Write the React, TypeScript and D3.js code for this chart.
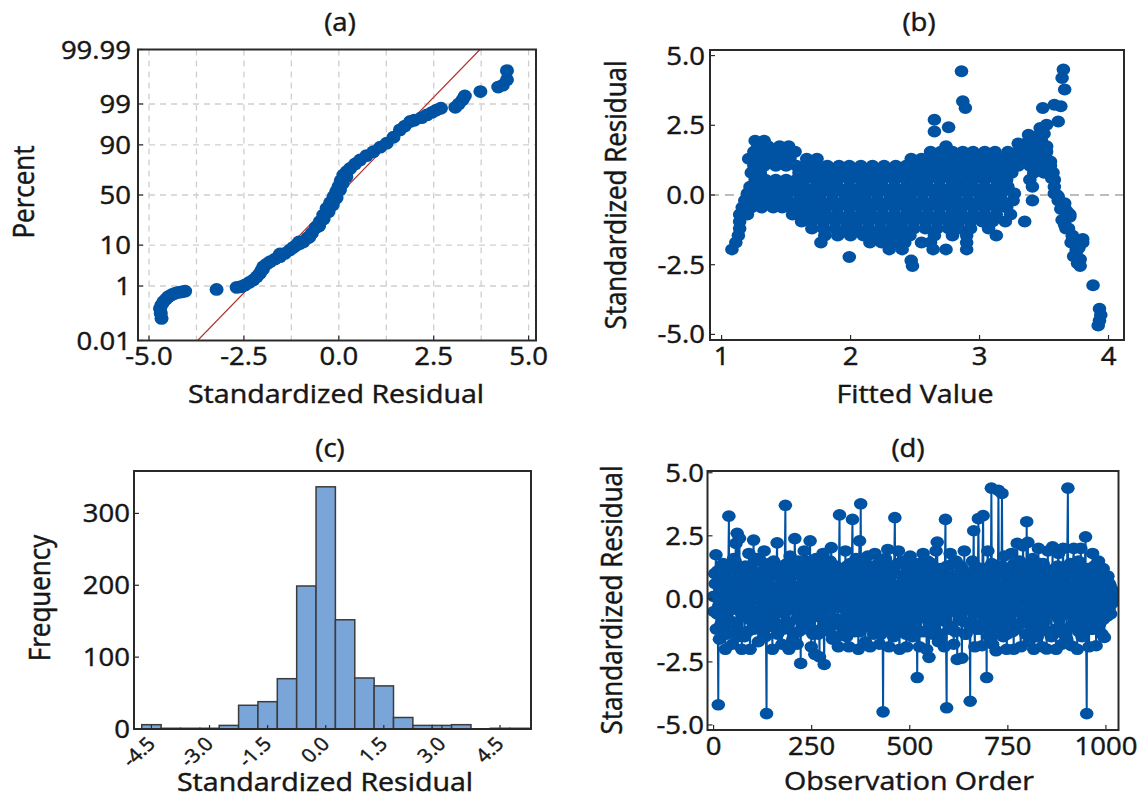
import React from 'react';
import * as d3 from 'd3';

const SX = 1.1;
const FONT = "'Open Sans', 'Noto Sans', sans-serif";
const BLUE = '#0052A3';
const TXT = '#161616';

// ---------- (a) normal probability plot ----------
const probTickPercents = [0.01, 1, 10, 50, 90, 99, 99.99];
const probTickLabels = ['0.01', '1', '10', '50', '90', '99', '99.99'];
const probGridPercents = [1, 10, 50, 90, 99];
const probXTicks = [-5, -2.5, 0, 2.5, 5];
const probXTickLabels = ['-5.0', '-2.5', '0.0', '2.5', '5.0'];
const probXGrid = [-5, -3.75, -2.5, -1.25, 0, 1.25, 2.5, 3.75, 5];
const fitMean = 0;
const fitSd = 1.0;
// [standardized residual, percent]
const probPoints: [number, number][] = [
  [-4.67, 0.08], [-4.69, 0.124], [-4.71, 0.187], [-4.67, 0.245], [-4.62, 0.32], [-4.55, 0.39],
  [-4.49, 0.47], [-4.4, 0.54], [-4.32, 0.6], [-4.23, 0.64], [-4.14, 0.66], [-4.05, 0.7],
  [-3.22, 0.79],
  [-2.69, 0.91], [-2.58, 0.95], [-2.47, 1.07], [-2.36, 1.27], [-2.25, 1.49], [-2.16, 1.84],
  [-2.08, 2.26], [-2.03, 2.75], [-1.99, 3.34], [-1.9, 3.88], [-1.81, 4.41], [-1.68, 5.08],
  [-1.55, 5.74], [-1.42, 6.79], [-1.29, 7.97], [-1.2, 9.04], [-1.11, 10.05], [-1.02, 10.8],
  [-0.93, 11.6], [-0.83, 13.6], [-0.71, 16.4], [-0.61, 20.2], [-0.5, 24.8], [-0.41, 30.4],
  [-0.32, 36.7], [-0.23, 42.2], [-0.14, 48.3], [-0.07, 53.4], [-0.01, 58.4], [0.05, 64.3],
  [0.12, 69.6], [0.21, 72.5], [0.3, 75.2], [0.43, 78.6], [0.56, 81.5], [0.73, 84.3],
  [0.91, 86.6], [1.09, 88.9], [1.26, 90.7], [1.44, 93.0], [1.61, 95.2], [1.74, 96.1],
  [1.88, 97.0], [1.99, 97.2], [2.18, 97.6], [2.32, 97.96], [2.46, 98.27], [2.57, 98.5],
  [2.69, 98.67],
  [3.07, 98.75], [3.16, 99.0], [3.26, 99.25], [3.32, 99.43], [3.73, 99.59], [4.2, 99.71],
  [4.32, 99.75], [4.43, 99.84], [4.43, 99.926],
  [-0.52, 21.5], [-0.4, 27.0], [-0.27, 33.5], [-0.16, 40.0], [-0.06, 47.0], [0.03, 55.0],
  [0.1, 61.5], [0.2, 68.0], [-0.78, 14.0], [-1.05, 11.5], [-1.55, 6.6], [-2.0, 2.9],
];

// ---------- (b) residuals vs fits ----------
const fitXTicks = [1, 2, 3, 4];
const residTicks = [-5, -2.5, 0, 2.5, 5];
const residTickLabels = ['-5.0', '-2.5', '0.0', '2.5', '5.0'];
// [standardized residual level, fitted values seen at that level]
const fitRows: [number, number[]][] = [
  [1.95, [1.26, 1.33]],
  [1.75, [1.28, 1.36, 1.45, 1.52, 2.74, 3.34, 3.42]],
  [1.55, [1.25, 1.33, 1.41, 1.49, 1.57, 2.62, 2.7, 2.79, 2.87, 2.95, 3.04, 3.12, 3.22, 3.3, 3.38, 3.46, 3.52]],
  [1.3, [1.21, 1.29, 1.37, 1.45, 1.53, 1.66, 1.74, 2.47, 2.55, 2.64, 2.73, 2.82, 2.91, 3.0, 3.09, 3.18, 3.27, 3.36, 3.45, 3.52]],
  [1.05, [1.25, 1.33, 1.42, 1.5, 1.58, 1.65, 1.73, 1.82, 1.91, 1.99, 2.08, 2.17, 2.26, 2.35, 2.43, 2.52, 2.6, 2.69, 2.78, 2.87, 2.95, 3.04, 3.13, 3.22, 3.3, 3.39, 3.47, 3.55]],
  [0.8, [1.23, 1.3, 1.6, 1.68, 1.77, 1.86, 1.95, 2.03, 2.12, 2.21, 2.3, 2.38, 2.47, 2.56, 2.65, 2.73, 2.82, 2.91, 3.0, 3.08, 3.17, 3.25, 3.42, 3.5, 3.57]],
  [0.55, [1.26, 1.34, 1.42, 1.5, 1.58, 1.64, 1.73, 1.81, 1.9, 1.99, 2.08, 2.16, 2.25, 2.34, 2.43, 2.51, 2.6, 2.69, 2.78, 2.86, 2.95, 3.04, 3.13, 3.21, 3.39, 3.58]],
  [0.3, [1.22, 1.3, 1.38, 1.47, 1.56, 1.64, 1.73, 1.82, 1.9, 1.99, 2.08, 2.17, 2.25, 2.34, 2.43, 2.52, 2.6, 2.69, 2.78, 2.87, 2.95, 3.04, 3.13, 3.22, 3.41]],
  [0.05, [1.2, 1.27, 1.35, 1.43, 1.51, 1.6, 1.69, 1.77, 1.86, 1.95, 2.04, 2.12, 2.21, 2.3, 2.39, 2.47, 2.56, 2.65, 2.74, 2.82, 2.91, 3.0, 3.09, 3.17, 3.27, 3.58]],
  [-0.2, [1.18, 1.25, 1.33, 1.42, 1.51, 1.6, 1.68, 1.77, 1.86, 1.95, 2.03, 2.12, 2.21, 2.3, 2.38, 2.47, 2.56, 2.65, 2.73, 2.82, 2.91, 3.0, 3.08, 3.17, 3.26, 3.41, 3.61]],
  [-0.45, [1.16, 1.23, 1.31, 1.4, 1.47, 1.55, 1.64, 1.73, 1.81, 1.9, 1.99, 2.08, 2.16, 2.25, 2.34, 2.43, 2.51, 2.6, 2.69, 2.78, 2.86, 2.95, 3.04, 3.13, 3.21, 3.66]],
  [-0.7, [1.14, 1.2, 1.55, 1.63, 1.72, 1.81, 1.9, 1.99, 2.08, 2.16, 2.25, 2.34, 2.43, 2.51, 2.6, 2.69, 2.78, 2.86, 2.95, 3.04, 3.13, 3.24, 3.7]],
  [-0.95, [1.14, 1.62, 1.7, 1.79, 1.88, 1.97, 2.05, 2.14, 2.23, 2.32, 2.4, 2.49, 2.58, 2.67, 2.76, 2.84, 2.93, 3.02, 3.1, 3.2, 3.35, 3.66]],
  [-1.2, [1.14, 1.7, 1.79, 1.88, 1.97, 2.05, 2.14, 2.23, 2.32, 2.4, 2.49, 2.58, 2.67, 2.76, 2.84, 2.93, 3.07, 3.67]],
  [-1.45, [1.13, 1.8, 1.9, 2.0, 2.1, 2.2, 2.29, 2.38, 2.46, 2.65, 2.79, 2.9, 3.13, 3.72]],
  [-1.7, [1.11, 1.77, 2.15, 2.24, 2.33, 2.42, 2.55, 2.62, 2.9, 3.71, 3.8]],
  [-1.95, [1.08, 2.3, 2.4, 2.64, 2.74, 2.9, 3.75]],
];
// isolated points [fitted, residual]
const fitOutliers: [number, number][] = [
  [1.99, -2.22], [2.47, -2.35], [2.48, -2.55], [3.78, -2.3], [3.78, -2.55], [3.88, -3.24],
  [3.93, -4.08], [3.94, -4.3], [3.93, -4.5], [3.92, -4.68],
  [2.86, 4.44], [2.87, 3.36], [2.89, 3.12], [2.65, 2.7], [2.65, 2.28], [2.76, 2.43],
  [3.65, 4.5], [3.64, 4.2], [3.66, 3.78], [3.49, 3.12], [3.58, 3.24], [3.63, 3.18], [3.61, 2.64],
  [3.3, 1.85], [3.38, 1.95], [3.38, 2.16], [3.44, 2.1], [3.47, 2.4], [3.52, 2.52], [3.48, 1.95],
  [3.5, 2.2], [3.52, 1.75], [3.58, 0.3], [3.61, -0.05], [3.66, -0.3], [3.7, -0.78], [3.66, -1.08],
  [3.72, -1.5], [3.8, -1.58], [3.75, -2.04],
  [3.6, 0.0], [3.63, -0.5], [3.68, -0.6], [3.64, -0.9], [3.69, -1.2], [3.74, -1.7], [3.77, -1.9],
  [3.73, -2.2], [3.76, -2.45], [3.56, 0.6], [3.55, 1.2],
];

// ---------- (c) histogram ----------
const histCenters = [-4.5, -4.0, -3.5, -3.0, -2.5, -2.0, -1.5, -1.0, -0.5, 0.0, 0.5, 1.0, 1.5, 2.0, 2.5, 3.0, 3.5, 4.0, 4.5, 5.0];
const histCounts = [6, 1, 1, 1, 5, 33, 38, 70, 199, 337, 152, 71, 60, 16, 5, 5, 6, 0, 1, 1];
const histBinWidth = 0.5;
const histXTicks = [-4.5, -3.0, -1.5, 0.0, 1.5, 3.0, 4.5];
const histXTickLabels = ['-4.5', '-3.0', '-1.5', '0.0', '1.5', '3.0', '4.5'];
const histYTicks = [0, 100, 200, 300];

// ---------- (d) residuals vs order ----------
const orderXTicks = [0, 250, 500, 750, 1000];
const orderStep = 3;
const orderResiduals = [
  0.1, 1.0, 1.75, -0.6, -4.2, -1.6, 0.8, -0.2, 1.4, -1.1,
  -2.0, 0.5, 1.2, 3.28, -0.9, 0.2, -1.8, 1.6, -0.4, 2.2,
  2.6, -1.5, 2.4, -0.1, -2.0, 0.9, -0.7, 1.3, 0.4, -1.3,
  1.8, -2.0, 0.6, -0.5, 2.33, -1.1, 0.1, 1.0, -1.7, 0.4,
  1.5, -0.8, -0.2, 1.9, -1.5, -4.55, 0.7, -1.0, 1.2, 0.0,
  -2.0, 1.5, 0.4, -0.6, 2.22, -1.3, 0.9, -0.2, -1.8, 1.3,
  0.3, 3.71, -0.9, 0.6, -2.0, 1.7, -0.4, 1.1, -1.4, 2.39,
  -0.1, -1.8, 1.5, 0.5, -2.56, 0.9, -1.2, 1.9, -0.5, 0.2,
  1.3, -1.0, 2.3, -1.9, 0.7, -0.3, -2.2, 1.6, 0.1, -1.4,
  -2.3, 1.0, -0.6, 1.8, -2.6, 0.4, -1.2, 0.8, -0.2, 1.5,
  2.03, -1.6, 0.6, -0.8, 1.3, -0.1, -1.9, 3.33, 0.3, -1.1,
  1.0, -0.4, 1.9, -1.5, 0.5, -1.9, 1.4, -0.7, 3.15, 0.1,
  -1.3, 1.6, -0.2, -2.0, 2.3, 3.77, 0.7, -1.0, 1.2, -1.7,
  0.4, 1.7, -0.6, -1.9, 1.0, -0.1, -1.4, 1.8, 0.2, -0.9,
  1.4, -1.8, 0.6, -0.3, -4.48, -1.2, 1.6, 0.0, 1.96, -1.9,
  0.9, -0.6, 1.3, -1.5, 3.22, 0.3, -1.0, 1.9, -2.0, 0.5,
  -0.3, 1.5, -1.2, 0.8, -1.9, 1.2, -0.5, 1.7, 0.1, -1.5,
  1.0, -0.8, 0.4, -3.12, 1.4, -1.9, 0.7, -0.2, 1.8, -1.3,
  0.2, -2.0, 1.5, -2.32, -0.5, 1.0, -1.4, 0.5, -0.9, 1.9,
  2.25, -1.7, 0.3, 1.2, -0.6, 0.8, -1.9, 3.15, -4.32, 0.1,
  -1.2, 1.8, -0.4, 0.9, -1.8, 0.4, 1.5, -2.4, 0.0, -0.8,
  1.3, -2.35, 0.6, 1.9, -1.4, -0.2, 0.8, -1.0, -4.06, 0.4,
  1.5, 2.7, -1.9, -0.3, 1.0, 3.18, -1.2, 0.5, -1.86, 3.3,
  -0.7, 1.2, -3.12, 1.9, -1.5, 0.2, 4.39, -1.8, 0.8, -0.4,
  -2.06, 1.3, 4.3, -1.0, 0.5, 4.18, -1.5, 1.7, -0.2, -2.0,
  1.1, -0.7, 0.4, 1.8, -1.3, -2.0, 0.8, -0.3, 2.2, -1.0,
  1.5, -1.9, 0.1, 2.1, -0.6, 0.9, 3.06, 2.24, -1.7, 0.3,
  -1.1, 1.6, -2.0, -0.4, 1.1, -1.5, 2.0, 0.0, 0.7, -1.9,
  1.4, -0.9, 0.5, -1.99, 1.9, -0.3, 1.0, -1.5, 2.06, -0.6,
  1.2, -2.0, 0.2, 1.8, -1.2, 0.6, -1.8, 2.0, -0.5, 0.9,
  -1.6, 4.39, -0.2, 1.4, -1.86, 0.5, 2.0, -1.1, 0.9, -2.0,
  1.5, -0.6, 2.0, -1.5, 0.3, -1.0, 2.46, -4.55, 1.2, -1.9,
  0.6, -1.2, 1.8, -0.3, 1.1, -1.86, 0.2, 1.5, -1.0, 0.7,
  -1.4, 1.2, -1.53, 0.4, -0.7, 0.9, -0.4, 0.5, -0.2, 0.2, 0.3,
];
// observations 1, 4, 7, ... (between the above)
const orderResidualsMid = [
  -0.5, 0.6, -1.2, 1.1, -0.3, 0.4, -1.0, 1.3, 0.0, -0.7,
  0.9, -1.4, 0.3, -0.2, 1.2, -0.9, 0.6, -0.4, 1.5, -1.1,
  0.2, 0.8, -1.3, 1.0, -0.6, 0.5, -1.5, 0.1, 1.1, -0.3,
  -0.8, 1.3, -0.1, 0.7, -1.2, 0.4, 1.6, -0.5, 0.0, -1.0,
  0.6, 1.1, -1.3, 0.3, -0.4, 0.9, -1.1, 1.4, -0.6, 0.2,
  1.0, -0.9, -0.1, 1.2, -1.4, 0.5, -0.3, 0.8, 1.3, -1.2,
  0.7, -0.5, 1.4, -1.0, 0.2, -0.2, 0.9, -1.6, 0.4, 1.1,
  -0.8, 0.3, -1.3, 1.2, -0.1, 0.6, -0.9, 0.0, 1.5, -0.4,
  -1.1, 0.8, -0.3, 1.0, -1.4, 0.5, 1.3, -0.7, 0.2, -0.1,
  0.6, -1.2, 1.1, -0.5, 0.3, -0.9, 1.4, 0.1, -1.3, 0.7,
  -0.4, 1.2, -1.0, 0.0, 0.9, -1.5, 0.5, -0.2, 1.0, -0.8,
  0.3, -1.2, 0.7, 1.3, -0.6, 0.1, -1.0, 1.1, -0.3, 0.6,
  1.0, -0.7, 0.4, 1.2, -1.3, -0.1, 0.8, -0.5, 0.2, 1.4,
  -1.1, 0.5, 1.0, -0.4, -0.9, 0.7, 1.3, -1.2, 0.0, 0.9,
  -0.3, 0.4, -1.4, 1.1, -0.6, 0.2, -1.0, 1.3, -0.2, 0.8,
  -1.2, 0.6, -0.4, 1.1, 0.1, -0.8, 1.4, -1.3, 0.3, -0.1,
  0.9, -0.7, 0.5, -1.4, 1.2, 0.0, -0.9, 0.7, -0.3, 1.3,
  -1.1, 0.4, 1.0, -0.5, -0.2, 0.8, -1.3, 1.2, -0.6, 0.3,
  1.1, -0.8, 0.0, 0.6, -1.2, 1.4, -0.4, 0.2, -1.0, 0.9,
  -0.3, 0.7, -1.4, 0.1, 1.2, -0.6, 0.5, -0.9, 1.3, -0.2,
  0.8, -1.1, 0.3, 1.4, -0.5, -1.3, 0.6, 0.0, 1.0, -0.7,
  -0.2, 1.2, -0.9, 0.4, -1.4, 1.0, -0.4, 0.7, 0.2, -1.1,
  0.5, -0.6, 1.3, -1.2, 0.1, 0.9, -0.3, -1.0, 1.2, 0.4,
  -0.9, 0.6, 1.1, -0.5, 0.0, -1.3, 1.4, -0.2, 0.8, -1.1,
  0.3, -0.7, 1.0, 0.5, -1.2, 1.3, -0.1, -0.6, 0.9, -1.4,
  0.2, 1.1, -0.9, 0.6, -0.3, 1.4, -1.2, 0.0, -0.5, 0.8,
  -1.0, 0.4, 1.2, -0.7, 0.1, -1.4, 0.9, -0.2, 1.3, -0.8,
  0.5, -1.2, 0.2, 1.0, -0.4, 0.7, -1.1, 1.4, -0.6, 0.0,
  -0.9, 1.2, -0.3, 0.6, -1.3, 0.3, 1.1, -0.5, -0.1, 0.9,
  -1.2, 0.4, 1.3, -0.8, 0.1, -0.4, 1.0, -1.4, 0.7, -0.2,
  1.2, -0.6, 0.5, -1.1, 0.0, 1.4, -0.9, 0.3, -0.3, 1.1,
  -1.3, 0.8, -0.1, 0.6, -1.0, 1.2, -0.5, 0.2, -0.8, 1.0,
  -0.4, 0.5, -1.2, 1.3, 0.1, -0.7, 0.9, -1.0, 0.3, -0.2,
  1.1, -0.8, 0.4, -0.5, 0.8, -0.3, 0.6, -0.6, 0.3, 0.1, -0.1,
];

// inverse standard normal CDF (Acklam)
function probit(p: number): number {
  const a = [-3.969683028665376e1, 2.209460984245205e2, -2.759285104469687e2, 1.38357751867269e2, -3.066479806614716e1, 2.506628277459239];
  const b = [-5.447609879822406e1, 1.615858368580409e2, -1.556989798598866e2, 6.680131188771972e1, -1.328068155288572e1];
  const c = [-7.784894002430293e-3, -3.223964580411365e-1, -2.400758277161838, -2.54967132450509, 4.374664141464968, 2.938163982698783];
  const d = [7.784695709041462e-3, 3.224671290700398e-1, 2.445134137142996, 3.754408661907416];
  const pl = 0.02425;
  if (p < pl) {
    const q = Math.sqrt(-2 * Math.log(p));
    return (((((c[0] * q + c[1]) * q + c[2]) * q + c[3]) * q + c[4]) * q + c[5]) / ((((d[0] * q + d[1]) * q + d[2]) * q + d[3]) * q + 1);
  }
  if (p <= 1 - pl) {
    const q = p - 0.5;
    const r = q * q;
    return ((((((a[0] * r + a[1]) * r + a[2]) * r + a[3]) * r + a[4]) * r + a[5]) * q) / (((((b[0] * r + b[1]) * r + b[2]) * r + b[3]) * r + b[4]) * r + 1);
  }
  const q = Math.sqrt(-2 * Math.log(1 - p));
  return -(((((c[0] * q + c[1]) * q + c[2]) * q + c[3]) * q + c[4]) * q + c[5]) / ((((d[0] * q + d[1]) * q + d[2]) * q + d[3]) * q + 1);
}

type TP = { x: number; y: number; anchor?: string; size?: number; rotate?: number; dy?: string; children: React.ReactNode };
function T({ x, y, anchor = 'middle', size = 25, rotate = 0, dy, children }: TP) {
  return (
    <g transform={`translate(${x},${y}) scale(${SX},1)`}>
      <text
        transform={rotate ? `rotate(${rotate})` : undefined}
        textAnchor={anchor as any}
        dy={dy}
        fontSize={size}
        fontFamily={FONT}
        fill={TXT}
        stroke={TXT}
        strokeWidth={0.45}
      >
        {children}
      </text>
    </g>
  );
}

const A = { x0: 138, x1: 536, y0: 49.5, y1: 340.5 };
const B = { x0: 710, x1: 1124, y0: 50, y1: 340 };
const C = { x0: 134, x1: 531, y0: 471, y1: 729 };
const D = { x0: 707.5, x1: 1118.5, y0: 471, y1: 730 };

function Frame({ p }: { p: { x0: number; x1: number; y0: number; y1: number } }) {
  return <rect x={p.x0} y={p.y0} width={p.x1 - p.x0} height={p.y1 - p.y0} fill="none" stroke="#2a2a2a" strokeWidth={2} />;
}

export default function App() {
  // (a)
  const xA = d3.scaleLinear().domain([-5.29, 5.195]).range([A.x0, A.x1]);
  const zMax = probit(0.9999);
  const yZ = d3.scaleLinear().domain([-zMax, zMax]).range([A.y1, A.y0]);
  const yA = (pct: number) => yZ(probit(pct / 100));
  const refLine = d3.line<number>().x((z) => xA(fitMean + fitSd * z)).y((z) => yZ(z))([-zMax, zMax]);

  // (b)
  const xB = d3.scaleLinear().domain([0.91, 4.12]).range([B.x0, B.x1]);
  const yB = d3.scaleLinear().domain([-5.2, 5.2]).range([B.y1, B.y0]);
  const bPoints: [number, number][] = fitRows.flatMap(([r, fs]) => fs.map((f) => [f, r] as [number, number])).concat(fitOutliers);

  // (c)
  const xC = d3.scaleLinear().domain([-4.95, 5.3]).range([C.x0, C.x1]);
  const yC = d3.scaleLinear().domain([0, 359]).range([C.y1, C.y0]);

  // (d)
  const xD = d3.scaleLinear().domain([-15.5, 1032]).range([D.x0, D.x1]);
  const yD = d3.scaleLinear().domain([-5.2, 5.07]).range([D.y1, D.y0]);
  const dPts: [number, number][] = orderResiduals
    .map((v, i) => [i * orderStep, v] as [number, number])
    .concat(orderResidualsMid.map((v, i) => [i * orderStep + 1, v] as [number, number]))
    .sort((p, q) => p[0] - q[0]);
  const dLine = d3.line<[number, number]>().x((p) => xD(p[0])).y((p) => yD(p[1]))(dPts);

  return (
    <svg width={1143} height={798} style={{ position: 'absolute', left: 0, top: 0, background: '#fff' }}>
      <defs>
        {[['ca', A], ['cb', B], ['cc', C], ['cd', D]].map(([id, p]: any) => (
          <clipPath id={id} key={id}>
            <rect x={p.x0} y={p.y0} width={p.x1 - p.x0} height={p.y1 - p.y0} />
          </clipPath>
        ))}
      </defs>
      <rect width={1143} height={798} fill="#fff" />

      {/* ===== (a) ===== */}
      <g clipPath="url(#ca)">
        {probXGrid.map((v) => (
          <line key={'gx' + v} x1={xA(v)} x2={xA(v)} y1={A.y0} y2={A.y1} stroke="#cfcfcf" strokeWidth={1.3} strokeDasharray="6,5" />
        ))}
        {probGridPercents.map((v) => (
          <line key={'gy' + v} x1={A.x0} x2={A.x1} y1={yA(v)} y2={yA(v)} stroke="#cfcfcf" strokeWidth={1.3} strokeDasharray="6,5" />
        ))}
        <path d={refLine || ''} stroke="#b0302a" strokeWidth={1.1} fill="none" />
        {probPoints.map(([r, p], i) => (
          <ellipse key={i} cx={xA(r)} cy={yA(p)} rx={7} ry={6.4} fill={BLUE} />
        ))}
      </g>
      <Frame p={A} />
      {probTickPercents.map((v, i) => (
        <g key={'at' + v}>
          <line x1={A.x0} x2={A.x0 + 5} y1={yA(v)} y2={yA(v)} stroke="#2a2a2a" strokeWidth={1.2} />
          <T x={131} y={yA(v)} anchor="end" dy="0.36em">{probTickLabels[i]}</T>
        </g>
      ))}
      {probXTicks.map((v, i) => (
        <g key={'ax' + v}>
          <line x1={xA(v)} x2={xA(v)} y1={A.y1} y2={A.y1 - 5} stroke="#2a2a2a" strokeWidth={1.2} />
          <T x={xA(v)} y={365}>{probXTickLabels[i]}</T>
        </g>
      ))}
      <T x={340} y={31} size={25}>(a)</T>
      <T x={336} y={403} size={26}>Standardized Residual</T>
      <T x={34} y={192} size={26} rotate={-90}>Percent</T>

      {/* ===== (b) ===== */}
      <line x1={B.x0} x2={B.x1} y1={yB(0)} y2={yB(0)} stroke="#a8a8a8" strokeWidth={1.6} strokeDasharray="9,6" />
      <g clipPath="url(#cb)">
        {bPoints.map(([f, r], i) => (
          <ellipse key={i} cx={xB(f)} cy={yB(r)} rx={6.8} ry={6} fill={BLUE} />
        ))}
      </g>
      <Frame p={B} />
      {residTicks.map((v, i) => (
        <g key={'bt' + v}>
          <line x1={B.x0} x2={B.x0 + 5} y1={yB(v)} y2={yB(v)} stroke="#2a2a2a" strokeWidth={1.2} />
          <T x={705} y={yB(v)} anchor="end" dy="0.36em">{residTickLabels[i]}</T>
        </g>
      ))}
      {fitXTicks.map((v) => (
        <g key={'bx' + v}>
          <line x1={xB(v)} x2={xB(v)} y1={B.y1} y2={B.y1 - 5} stroke="#2a2a2a" strokeWidth={1.2} />
          <T x={xB(v)} y={365}>{String(v)}</T>
        </g>
      ))}
      <T x={919} y={31} size={25}>(b)</T>
      <T x={915} y={403} size={26}>Fitted Value</T>
      <T x={626} y={195} size={26} rotate={-90}>Standardized Residual</T>

      {/* ===== (c) ===== */}
      <g clipPath="url(#cc)">
        {histCenters.map((c, i) => (
          <rect
            key={i}
            x={xC(c - histBinWidth / 2)}
            y={yC(histCounts[i])}
            width={xC(c + histBinWidth / 2) - xC(c - histBinWidth / 2)}
            height={yC(0) - yC(histCounts[i])}
            fill="#7aa5d9"
            stroke="#3c3c3c"
            strokeWidth={1.5}
          />
        ))}
      </g>
      <Frame p={C} />
      {histYTicks.map((v) => (
        <g key={'ct' + v}>
          <line x1={C.x0} x2={C.x0 + 5} y1={yC(v)} y2={yC(v)} stroke="#2a2a2a" strokeWidth={1.2} />
          <T x={130} y={yC(v)} anchor="end" dy="0.36em">{String(v)}</T>
        </g>
      ))}
      {histXTicks.map((v, i) => (
        <g key={'cx' + v}>
          <line x1={xC(v)} x2={xC(v)} y1={C.y1} y2={C.y1 - 4} stroke="#2a2a2a" strokeWidth={1.2} />
          <T x={xC(v) + 5} y={745} anchor="end" rotate={-45} size={19}>{histXTickLabels[i]}</T>
        </g>
      ))}
      <T x={330} y={457} size={25}>(c)</T>
      <T x={325} y={791} size={26}>Standardized Residual</T>
      <T x={50} y={598} size={26} rotate={-90}>Frequency</T>

      {/* ===== (d) ===== */}
      <g clipPath="url(#cd)">
        <path d={dLine || ''} stroke={BLUE} strokeWidth={2} fill="none" />
        {dPts.map(([o, v], i) => (
          <ellipse key={i} cx={xD(o)} cy={yD(v)} rx={6.8} ry={5.8} fill={BLUE} />
        ))}
      </g>
      <Frame p={D} />
      {residTicks.map((v, i) => (
        <g key={'dt' + v}>
          <line x1={D.x0} x2={D.x0 + 5} y1={yD(v)} y2={yD(v)} stroke="#2a2a2a" strokeWidth={1.2} />
          <T x={704} y={yD(v)} anchor="end" dy="0.36em">{residTickLabels[i]}</T>
        </g>
      ))}
      {orderXTicks.map((v) => (
        <g key={'dx' + v}>
          <line x1={xD(v)} x2={xD(v)} y1={D.y1} y2={D.y1 - 5} stroke="#2a2a2a" strokeWidth={1.2} />
          <T x={xD(v)} y={755}>{String(v)}</T>
        </g>
      ))}
      <T x={908} y={457} size={25}>(d)</T>
      <T x={909} y={790} size={26}>Observation Order</T>
      <T x={622} y={600} size={26} rotate={-90}>Standardized Residual</T>
    </svg>
  );
}
